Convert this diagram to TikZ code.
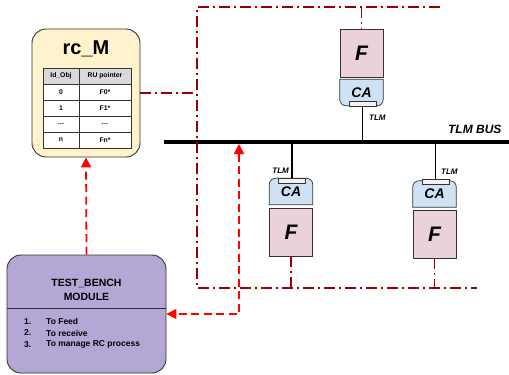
\documentclass[tikz,border=0pt]{standalone}
\usepackage{fontspec}
\setmainfont{Liberation Sans}
\usetikzlibrary{positioning,arrows.meta}
\definecolor{memfill}{HTML}{FFF2CC}
\definecolor{tbfill}{HTML}{B4A7D6}
\definecolor{ffill}{HTML}{EAD1DC}
\definecolor{cafill}{HTML}{CFE2F3}
\definecolor{ctrlred}{HTML}{990000}
\definecolor{hdrgray}{HTML}{D9D9D9}
\definecolor{edge}{HTML}{333333}

\begin{document}
\begin{tikzpicture}[x=1pt,y=-1pt,>=Stealth,font=\bfseries,
  membox/.style={draw=edge,line width=0.9pt,fill=memfill,rounded corners=14pt,
                 minimum width=108pt,minimum height=128pt,inner sep=0pt},
  cell/.style={draw=edge,line width=0.7pt,inner sep=0pt,minimum height=16pt,
               font=\bfseries\fontsize{6.8}{7}\selectfont},
  fbox/.style={draw=edge,line width=0.7pt,fill=ffill,minimum width=43pt,
               minimum height=48pt,inner sep=0pt,
               font=\bfseries\itshape\fontsize{21}{21}\selectfont},
  caface/.style={minimum width=43pt,minimum height=26pt,inner sep=0pt,
                 font=\bfseries\itshape\fontsize{14}{14}\selectfont},
  cashape/.style={draw=edge,line width=0.7pt,fill=cafill},
  tab/.style={draw=edge,line width=0.6pt,fill=gray!10,minimum width=27pt,
              minimum height=5pt,inner sep=0pt},
  tlm/.style={font=\bfseries\itshape\fontsize{8}{8}\selectfont,inner sep=1pt},
  bus/.style={line width=4pt},
  tap/.style={line width=1.2pt},
  ctrl/.style={ctrlred,line width=1.3pt,dash pattern=on 11pt off 4pt on 2pt off 4pt},
  req/.style={red,line width=1.8pt,dash pattern=on 8pt off 4.5pt,
              arrows={-Triangle[width=10pt,length=10pt]}}]
  \useasboundingbox (0,0) rectangle (509,375);

  % control frame
  \coordinate (tl) at (197,7);
  \coordinate (tr) at (440,7);
  \coordinate (bl) at (197,288);
  \coordinate (br) at (477,288);
  \coordinate (busL) at (164,142);
  \coordinate (busR) at (509,142);

  % rc_M memory
  \node[membox] (rcm) at (86,93) {};
  \node[font=\bfseries\fontsize{20}{20}\selectfont] (rcmtitle) at (86,49) {rc\_M};
  \foreach \row/\ida/\idb [count=\i] in {0/Id\_Obj/RU pointer,1/0/F0*,2/1/F1*,3/\ldots/\ldots,4/n/Fn*}{
    \ifnum\i=1
      \node[cell,fill=hdrgray,minimum width=36pt] (ida\i) at (61,76+16*\row) {\ida};
      \node[cell,fill=hdrgray,minimum width=52pt] (idb\i) at (105,76+16*\row) {\idb};
    \else
      \node[cell,fill=white,minimum width=36pt] (ida\i) at (61,76+16*\row) {\ida};
      \node[cell,fill=white,minimum width=52pt] (idb\i) at (105,76+16*\row) {\idb};
    \fi
  }

  % test bench
  \node[draw=edge,line width=0.9pt,fill=tbfill,rounded corners=14pt,minimum width=159pt,
        minimum height=118pt,inner sep=0pt] (tb) at (86.5,314) {};
  \draw[edge,line width=0.9pt] (tb.west |- 0,308) -- (tb.east |- 0,308);
  \node[align=center,font=\bfseries\fontsize{10.5}{14}\selectfont] (tbtitle) at (86.5,290)
       {TEST\_BENCH\\MODULE};
  \foreach \txt [count=\i] in {To Feed,To receive,To manage RC process}{
    \node[anchor=west,font=\bfseries\fontsize{8.5}{9}\selectfont,inner sep=0pt]
         (num\i) at (24,310+11.5*\i) {\i.};
    \node[anchor=west,font=\bfseries\fontsize{8.5}{9}\selectfont,inner sep=0pt]
         (item\i) at (46,310+11.5*\i) {\txt};
  }

  % function blocks
  \node[fbox] (f1) at (361.5,53) {F};
  \node[caface] (ca1) at (361.5,92.5) {};
  \draw[cashape] (ca1.north) -- (ca1.north east) [rounded corners=6pt] -- (ca1.south east)
       -- (ca1.south west) [sharp corners] -- (ca1.north west) -- cycle;
  \node[caface] at (ca1) {CA};
  \node[tab] (tab1) at (362.5,104) {};

  \node[fbox] (f2) at (291,232) {F};
  \node[caface] (ca2) at (291,191.5) {};
  \draw[cashape] (ca2.south) -- (ca2.south west) [rounded corners=6pt] -- (ca2.north west)
       -- (ca2.north east) [sharp corners] -- (ca2.south east) -- cycle;
  \node[caface] at (ca2) {CA};
  \node[tab] (tab2) at (292,180.5) {};

  \node[fbox] (f3) at (434.5,234) {F};
  \node[caface] (ca3) at (434.5,194) {};
  \draw[cashape] (ca3.south) -- (ca3.south west) [rounded corners=6pt] -- (ca3.north west)
       -- (ca3.north east) [sharp corners] -- (ca3.south east) -- cycle;
  \node[caface] at (ca3) {CA};
  \node[tab] (tab3) at (435.5,182) {};

  % TLM bus
  \draw[bus] (busL) -- (busR);
  \node[font=\bfseries\itshape\fontsize{12}{12}\selectfont,anchor=east] (buslbl) at (505,129) {TLM BUS};
  \draw[tap] (tab1.south) -- (tab1.south |- busL);
  \draw[tap] (tab2.north) -- (tab2.north |- busL);
  \draw[tap] (tab3.north) -- (tab3.north |- busL);
  \node[tlm,anchor=west] at (368,118) {TLM};
  \node[tlm,anchor=east] at (290,171) {TLM};
  \node[tlm,anchor=west] at (440,172) {TLM};

  % reconfiguration control lines
  \draw[ctrl] (tr) -- (tl) -- (bl) -- (br);
  \draw[ctrl] (rcm.east) -- (rcm.east -| tl);
  \draw[ctrl] (f1.north |- tl) -- (f1.north);
  \draw[ctrl] (f2.south) -- (f2.south |- bl);
  \draw[ctrl] (f3.south) -- (f3.south |- bl);

  % requests from test bench
  \draw[req] (tb.north) -- (rcm.south);
  \coordinate (reqtop) at (239,144);
  \draw[req,arrows={Triangle[width=10pt,length=10pt]-Triangle[width=10pt,length=10pt]}]
       (reqtop) |- (tb.east);
\end{tikzpicture}
\end{document}
